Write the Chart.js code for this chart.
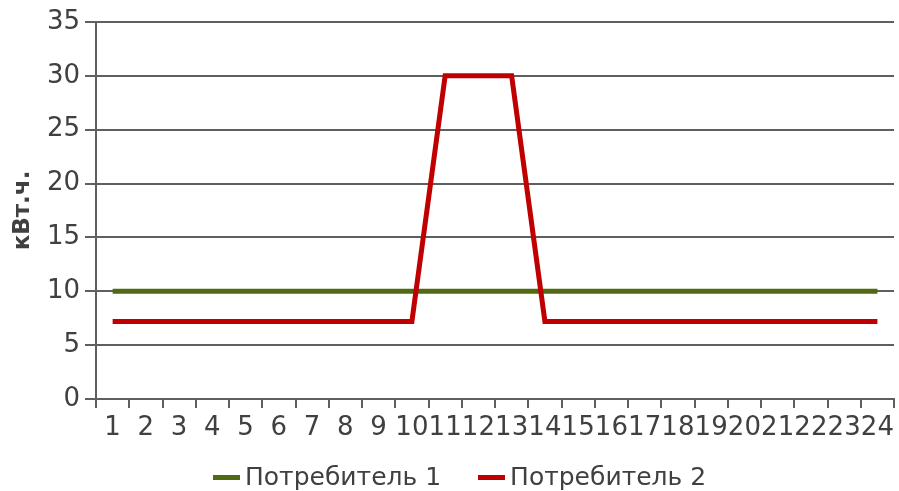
<!DOCTYPE html>
<html>
<head>
<meta charset="utf-8">
<script src="https://cdn.jsdelivr.net/npm/chart.js@4/dist/chart.umd.min.js"></script>
<style>
  html, body { margin: 0; padding: 0; background: #fff; }
  #wrap { width: 899px; height: 491px; position: relative; }
  #legend {
    position: absolute; left: 213px; top: 462px;
    display: flex; align-items: center;
    font-family: 'DejaVu Sans', sans-serif; font-size: 25px; line-height: 30px;
    color: #404040; white-space: nowrap;
  }
  .legend-item { display: flex; align-items: center; margin-right: 37px; }
  .legend-mark { width: 27px; height: 5px; margin-right: 5px; }
</style>
</head>
<body>
<div id="wrap">
  <canvas id="chart"></canvas>
  <div id="legend"></div>
</div>
<script>
// Данные графика
const hours = ['1','2','3','4','5','6','7','8','9','10','11','12',
               '13','14','15','16','17','18','19','20','21','22','23','24'];
const consumer1 = [10,10,10,10,10,10,10,10,10,10,10,10,
                   10,10,10,10,10,10,10,10,10,10,10,10];
const consumer2 = [7.2,7.2,7.2,7.2,7.2,7.2,7.2,7.2,7.2,7.2,30,30,
                   30,7.2,7.2,7.2,7.2,7.2,7.2,7.2,7.2,7.2,7.2,7.2];
const seriesNames = ['Потребитель 1', 'Потребитель 2'];
const yTitle = 'кВт.ч.';

// Цвета
const COLORS = {
    green: '#4f6a10',
    red: '#c00000',
    grid: '#5f5f5f',
    text: '#404040'
};
const FONT = 'DejaVu Sans';

const ctx = document.getElementById('chart').getContext('2d');
const chart = new Chart(ctx, {
    type: 'line',
    data: {
        labels: hours,
        datasets: [
            {
                label: seriesNames[0],
                data: consumer1,
                borderColor: COLORS.green,
                backgroundColor: COLORS.green,
                borderWidth: 5,
                pointRadius: 0,
                tension: 0,
                order: 2
            },
            {
                label: seriesNames[1],
                data: consumer2,
                borderColor: COLORS.red,
                backgroundColor: COLORS.red,
                borderWidth: 5,
                pointRadius: 0,
                tension: 0,
                order: 1
            }
        ]
    },
    options: {
        responsive: true,
        maintainAspectRatio: false,
        animation: false,
        layout: { padding: { top: 22, right: 2, left: 0, bottom: 42 } },
        scales: {
            x: {
                offset: true,
                grid: {
                    offset: true,
                    drawOnChartArea: false,
                    color: COLORS.grid,
                    lineWidth: 2,
                    tickLength: 9
                },
                border: { color: COLORS.grid, width: 2 },
                ticks: {
                    color: COLORS.text,
                    font: { family: FONT, size: 26 },
                    padding: 5,
                    maxRotation: 0,
                    autoSkip: false
                },
                afterFit: scale => { scale.height = 50; }
            },
            y: {
                min: 0,
                max: 35,
                ticks: {
                    stepSize: 5,
                    color: COLORS.text,
                    font: { family: FONT, size: 26 },
                    padding: 5
                },
                grid: {
                    color: COLORS.grid,
                    lineWidth: 2,
                    tickLength: 11
                },
                border: { color: COLORS.grid, width: 2 },
                title: {
                    display: true,
                    text: yTitle,
                    color: COLORS.text,
                    font: { family: FONT, size: 23, weight: 'bold' },
                    padding: { top: 9, bottom: 0 }
                },
                afterFit: scale => { scale.width = 96; }
            }
        },
        plugins: {
            legend: { display: false },
            tooltip: { enabled: false }
        }
    }
});

// Легенда (HTML) по наборам данных графика
const legendEl = document.getElementById('legend');
chart.data.datasets.forEach(ds => {
    const item = document.createElement('div');
    item.className = 'legend-item';
    const mark = document.createElement('span');
    mark.className = 'legend-mark';
    mark.style.background = ds.borderColor;
    const text = document.createElement('span');
    text.textContent = ds.label;
    item.appendChild(mark);
    item.appendChild(text);
    legendEl.appendChild(item);
});
</script>
</body>
</html>
